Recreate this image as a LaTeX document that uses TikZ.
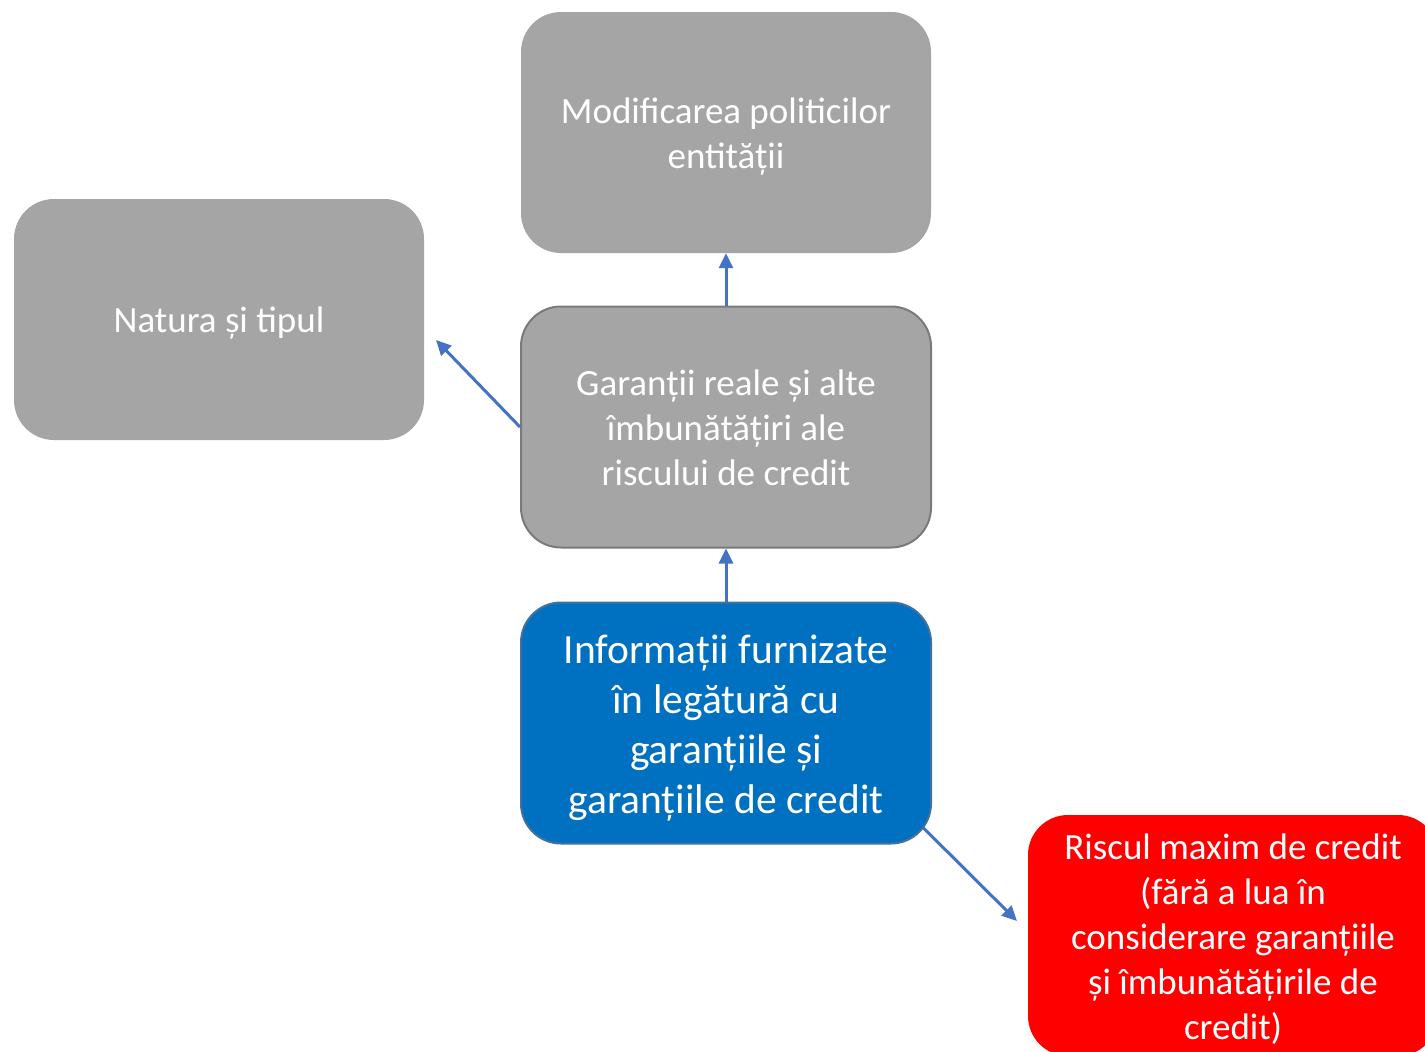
\documentclass[tikz,border=0pt]{standalone}
\usepackage{fontspec}
\setmainfont{Carlito}
\usetikzlibrary{arrows.meta}

\definecolor{boxgray}{HTML}{A5A5A5}
\definecolor{edgegray}{HTML}{7A7A7A}
\definecolor{infoblue}{HTML}{0070C0}
\definecolor{infoedge}{HTML}{41719C}
\definecolor{riskred}{HTML}{FF0000}
\definecolor{linkblue}{HTML}{4472C4}

\tikzset{
  card gap/.initial=8pt,
  card/.style={rectangle, rounded corners=40pt, minimum width=410pt, minimum height=241pt,
    align=center, text=white, inner sep=0pt, font=\fontsize{37}{45}\selectfont,
    execute at begin node={\vbox\bgroup\kern\pgfkeysvalueof{/tikz/card gap}\hbox\bgroup},
    execute at end node={\egroup\egroup}},
  graycard/.style={card, fill=boxgray},
  link/.style={linkblue, line width=3pt, -{Triangle[length=15pt, width=14pt]}}
}

\begin{document}
\begin{tikzpicture}[x=1pt, y=-1pt]
    \clip (0,0) rectangle (1425,1052);
    \fill[white] (0,0) rectangle (1425,1052);

    % Boxes
    \node[graycard] at (726,132.5) (policy) {Modificarea politicilor\\entității};
    \node[graycard] at (219,319.5) (nature) {Natura și tipul};
    \node[graycard, draw=edgegray, line width=2pt, card gap=2pt] at (726,427) (guar) {Garanții reale și alte\\îmbunătățiri ale\\riscului de credit};
    \node[card, fill=infoblue, draw=infoedge, line width=2pt, font=\fontsize{41.5}{50}\selectfont, card gap=10pt] at (726,723) (info)
        {Informații furnizate\\în legătură cu\\garanțiile și\\garanțiile de credit};
    \node[card, fill=riskred] at (1233,935.5) (risk)
        {Riscul maxim de credit\\(fără a lua în\\considerare garanțiile\\și îmbunătățirile de\\credit)};

    % Free ends of the slanted arrows
    \coordinate (natTip) at (436,340);
    \coordinate (riskTip) at (1017,921);

    % Arrows
    \draw[link] (guar) -- (policy);
    \draw[link] (guar.west) -- (natTip);
    \draw[link] (info) -- (guar);
    \draw[link] ([shift={(-9,-17)}]info.south east) -- (riskTip);

\end{tikzpicture}
\end{document}
